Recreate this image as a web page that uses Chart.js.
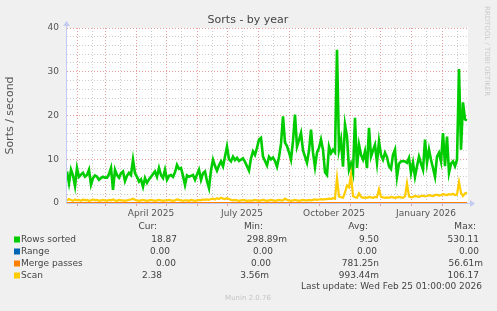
<!DOCTYPE html>
<html>
<head>
<meta charset="utf-8">
<script src="https://cdn.jsdelivr.net/npm/chart.js@4.4.1/dist/chart.umd.min.js"></script>
<style>
  html, body { margin: 0; padding: 0; background: #F0F0F0; }
  canvas { display: block; }
</style>
</head>
<body>
<canvas id="myChart" width="497" height="311"></canvas>
<script>
// one sample every 2 days, starting 2025-01-22
const rowsSorted = [
  7.2, 4.5, 7.6, 6.3, 3.9, 8.0, 6.0, 6.5, 6.9, 6.0,
  6.4, 7.6, 4.2, 5.7, 6.3, 6.0, 5.3, 5.7, 6.0, 5.8,
  5.8, 6.6, 8.0, 3.0, 7.6, 6.4, 5.8, 6.8, 7.2, 5.0,
  6.2, 6.9, 6.4, 9.9, 6.8, 6.0, 4.9, 5.4, 3.7, 5.7,
  4.6, 5.4, 6.0, 6.6, 7.2, 6.0, 8.0, 6.4, 5.7, 7.6,
  5.3, 6.2, 6.4, 6.0, 7.0, 8.7, 7.8, 8.0, 6.2, 4.1,
  6.3, 6.0, 6.2, 6.4, 5.3, 6.5, 7.6, 5.3, 6.8, 7.2,
  5.0, 3.4, 7.5, 9.9, 8.5, 7.4, 8.6, 9.5, 8.4, 10.6,
  12.9, 10.0, 9.5, 10.6, 9.8, 10.3, 9.6, 9.9, 10.2, 9.4,
  8.4, 7.4, 10.2, 11.8, 11.0, 12.6, 14.5, 14.9, 10.6, 9.6,
  8.6, 10.6, 10.0, 10.4, 9.6, 8.3, 10.5, 13.5, 19.8, 13.8,
  13.0, 11.6, 9.9, 14.2, 20.2, 12.9, 14.4, 16.0, 12.0, 10.6,
  9.2, 12.0, 16.8, 11.5, 8.2, 11.5, 12.6, 14.5, 12.2, 7.0,
  6.4, 12.9, 11.4, 12.2, 11.6, 35.0, 12.2, 14.5, 8.3, 17.9,
  15.2, 7.6, 9.0, 6.9, 19.5, 8.0, 13.3, 11.0, 9.9, 11.8,
  8.0, 17.2, 10.6, 12.0, 13.3, 9.2, 14.1, 11.0, 9.9, 11.5,
  10.5, 8.4, 7.8, 11.0, 12.2, 6.0, 9.0, 9.5, 9.6, 9.5,
  9.2, 10.3, 6.9, 9.2, 6.0, 8.4, 10.6, 9.0, 7.6, 14.5,
  9.2, 12.2, 9.9, 8.0, 6.0, 10.6, 11.5, 9.5, 16.0, 8.4,
  15.2, 6.9, 9.0, 9.5, 8.4, 9.9, 30.6, 12.2, 23.0, 19.1,
  18.9
];
const scan = [
  0.6, 0.9, 0.7, 0.5, 0.8, 0.6, 0.7, 0.5, 0.8, 0.6,
  0.7, 0.5, 0.6, 0.8, 0.6, 0.7, 0.5, 0.6, 0.7, 0.6,
  0.5, 0.7, 0.6, 0.8, 0.6, 0.5, 0.7, 0.6, 0.6, 0.5,
  0.6, 0.7, 0.8, 1.0, 0.7, 0.6, 0.5, 0.6, 0.7, 0.6,
  0.5, 0.6, 0.7, 0.6, 0.5, 0.6, 0.7, 0.6, 0.5, 0.6,
  0.6, 0.7, 0.6, 0.5, 0.6, 0.8, 0.7, 0.6, 0.5, 0.6,
  0.6, 0.5, 0.7, 0.6, 0.5, 0.6, 0.7, 0.6, 0.8, 0.7,
  0.8, 0.7, 0.9, 1.0, 0.8, 1.1, 0.9, 1.2, 1.0, 0.9,
  1.1, 0.9, 0.7, 0.6, 0.7, 0.6, 0.5, 0.6, 0.7, 0.6,
  0.5, 0.6, 0.5, 0.6, 0.7, 0.6, 0.5, 0.6, 0.7, 0.6,
  0.5, 0.6, 0.7, 0.6, 0.5, 0.6, 0.7, 0.6, 0.6, 1.0,
  0.7, 0.6, 0.5, 0.6, 0.7, 0.6, 0.5, 0.6, 0.7, 0.6,
  0.6, 0.7, 0.6, 0.7, 0.8, 0.7, 0.8, 0.9, 0.8, 0.9,
  0.9, 1.0, 0.9, 1.1, 1.0, 5.7, 1.5, 1.3, 1.2, 2.4,
  4.0, 3.6, 6.5, 1.6, 1.3, 1.2, 2.2, 1.4, 1.2, 1.3,
  1.2, 1.4, 1.3, 1.2, 1.4, 1.3, 3.1, 1.4, 1.3, 1.2,
  1.3, 1.2, 1.4, 1.3, 1.2, 1.3, 1.4, 1.3, 1.2, 1.5,
  4.5, 1.5, 1.3, 1.4, 1.6, 1.5, 1.4, 1.6, 1.7, 1.5,
  1.6, 1.8, 1.7, 1.6, 1.8, 1.9, 1.7, 1.8, 2.0, 1.9,
  1.8, 2.0, 1.9, 2.1, 1.8, 1.9, 4.8, 2.3, 1.6, 2.2,
  2.4
];
// Range and Merge passes stay at zero the whole year
const range = rowsSorted.map(() => 0);
const mergePasses = rowsSorted.map(() => 0);
const sampleDays = rowsSorted.map((_, i) => i * 2);

const seriesNames = ['Rows sorted', 'Range', 'Merge passes', 'Scan'];
const curValues = ['18.87', '0.00', '0.00', '2.38'];
const minValues = ['298.89m', '0.00', '0.00', '3.56m'];
const avgValues = ['9.50', '0.00', '781.25n', '993.44m'];
const maxValues = ['530.11', '0.00', '56.61m', '106.17'];

const tickLabels = ['April 2025', 'July 2025', 'October 2025', 'January 2026'];
const tickLabelDates = [[2025, 3, 16], [2025, 6, 16], [2025, 9, 16], [2026, 0, 16]];

const colors = ['#00CC00', '#0066B3', '#FF8000', '#FFCC00'];
const font = '"DejaVu Sans", sans-serif';

const dayOf = (y, m, d) => Math.round((Date.UTC(y, m, d) - Date.UTC(2025, 0, 22)) / 86400000);

// month starts get red lines, the 16th gets a grey one
const monthStarts = new Set();
const xTicks = [];
for (let k = 0; k < 14; k++) {
  const y = 2025 + Math.floor((k + 1) / 12), m = (k + 1) % 12;
  [1, 16].forEach(d => {
    const v = dayOf(y, m, d);
    if (v > 0 && v < 401) {
      xTicks.push(v);
      if (d === 1) monthStarts.add(v);
    }
  });
}
const labelAt = {};
tickLabelDates.forEach((d, i) => { labelAt[dayOf(d[0], d[1], d[2])] = tickLabels[i]; });

const majorGrid = 'rgba(225, 140, 140, 0.85)';
const minorGrid = 'rgba(200, 200, 200, 0.9)';
const axisColor = '#C4CBF2';

const toPoints = arr => arr.map((v, i) => ({ x: sampleDays[i], y: v }));

const decor = {
  id: 'decor',
  beforeDraw(chart) {
    const { ctx, chartArea: a } = chart;
    ctx.save();
    ctx.fillStyle = '#F0F0F0';
    ctx.fillRect(0, 0, chart.width, chart.height);
    ctx.fillStyle = '#FFFFFF';
    ctx.fillRect(a.left, a.top, a.right - a.left, a.bottom - a.top);
    ctx.restore();
  },
  beforeDatasetsDraw(chart) {
    const { ctx, chartArea: a } = chart;
    ctx.save();
    ctx.strokeStyle = axisColor;
    ctx.fillStyle = axisColor;
    ctx.lineWidth = 1;
    ctx.beginPath();
    ctx.moveTo(a.left - 0.5, a.bottom + 0.5);
    ctx.lineTo(a.left - 0.5, a.top - 4);
    ctx.moveTo(a.left - 0.5, a.bottom + 0.5);
    ctx.lineTo(a.right + 3, a.bottom + 0.5);
    ctx.stroke();
    // arrow heads
    ctx.beginPath();
    ctx.moveTo(a.left - 4, a.top - 2);
    ctx.lineTo(a.left + 3, a.top - 2);
    ctx.lineTo(a.left - 0.5, a.top - 7);
    ctx.closePath();
    ctx.fill();
    ctx.beginPath();
    ctx.moveTo(a.right + 2, a.bottom - 3);
    ctx.lineTo(a.right + 2, a.bottom + 4);
    ctx.lineTo(a.right + 7, a.bottom + 0.5);
    ctx.closePath();
    ctx.fill();
    ctx.restore();
  },
  afterDraw(chart) {
    const ctx = chart.ctx;
    ctx.save();
    ctx.textBaseline = 'middle';
    ctx.fillStyle = '#444';
    ctx.font = '11px ' + font;
    ctx.textAlign = 'center';
    ctx.fillText('Sorts - by year', 248, 20);

    ctx.font = '9px ' + font;
    ctx.textAlign = 'right';
    const headRight = [157, 263, 368, 476];
    ['Cur:', 'Min:', 'Avg:', 'Max:'].forEach((t, i) => ctx.fillText(t, headRight[i], 227));

    const cellRight = [
      [177, 287, 379, 479],
      [170, 273, 377, 479],
      [176, 271, 379, 483],
      [162, 269, 379, 479]
    ];
    seriesNames.forEach((name, r) => {
      const y = 239.5 + r * 12;
      ctx.fillStyle = colors[r];
      ctx.fillRect(14, y - 3, 6, 6);
      ctx.fillStyle = '#444';
      ctx.textAlign = 'left';
      ctx.fillText(name, 21, y);
      ctx.textAlign = 'right';
      [curValues, minValues, avgValues, maxValues].forEach((col, c) => {
        ctx.fillText(col[r], cellRight[r][c], y);
      });
    });
    ctx.fillText('Last update: Wed Feb 25 01:00:00 2026', 482, 287);

    ctx.font = '7px ' + font;
    ctx.fillStyle = '#C4C4C4';
    ctx.textAlign = 'center';
    ctx.fillText('Munin 2.0.76', 248, 298);

    ctx.translate(487, 51);
    ctx.rotate(Math.PI / 2);
    ctx.fillStyle = '#CACACA';
    ctx.fillText('RRDTOOL / TOBI OETIKER', 0, 0);
    ctx.restore();
  }
};

const ctx = document.getElementById('myChart').getContext('2d');
const myChart = new Chart(ctx, {
  type: 'line',
  data: {
    datasets: [
      { label: seriesNames[0], data: toPoints(rowsSorted), borderColor: colors[0], borderWidth: 2.6, order: 3 },
      { label: seriesNames[1], data: toPoints(range), borderColor: colors[1], order: 2 },
      { label: seriesNames[2], data: toPoints(mergePasses), borderColor: colors[2], order: 1 },
      { label: seriesNames[3], data: toPoints(scan), borderColor: colors[3], borderWidth: 2.2, order: 0 }
    ]
  },
  options: {
    responsive: false,
    animation: false,
    elements: {
      line: { borderWidth: 2, tension: 0 },
      point: { radius: 0 }
    },
    layout: { padding: { top: 28, right: 29, bottom: 88, left: 0 } },
    plugins: {
      legend: { display: false },
      tooltip: { enabled: false },
      title: { display: false }
    },
    scales: {
      x: {
        type: 'linear',
        min: 0,
        max: 401,
        afterBuildTicks: s => { s.ticks = xTicks.map(v => ({ value: v })); },
        afterFit: s => { s.height = 20; },
        grid: {
          color: c => (c.tick && monthStarts.has(c.tick.value)) ? majorGrid : minorGrid,
          tickColor: c => (c.tick && monthStarts.has(c.tick.value)) ? majorGrid : 'rgba(0,0,0,0)',
          tickLength: 3
        },
        border: { display: false, dash: [1, 2] },
        ticks: {
          autoSkip: false,
          maxRotation: 0,
          padding: 2,
          color: '#555',
          font: { family: font, size: 9 },
          callback: v => labelAt[v] || ''
        }
      },
      y: {
        min: 0,
        max: 40,
        afterFit: s => { s.width = 67; },
        grid: {
          color: c => (c.tick && c.tick.value % 10 === 0) ? majorGrid : minorGrid,
          drawTicks: false
        },
        border: { display: false, dash: [1, 2] },
        ticks: {
          stepSize: 2,
          autoSkip: false,
          padding: 8,
          color: '#555',
          font: { family: font, size: 9 },
          callback: v => v % 10 === 0 ? v : ''
        },
        title: {
          display: true,
          text: 'Sorts / second',
          color: '#555',
          font: { family: font, size: 11 },
          padding: { top: 4, bottom: 0 }
        }
      }
    }
  },
  plugins: [decor]
});
</script>
</body>
</html>
